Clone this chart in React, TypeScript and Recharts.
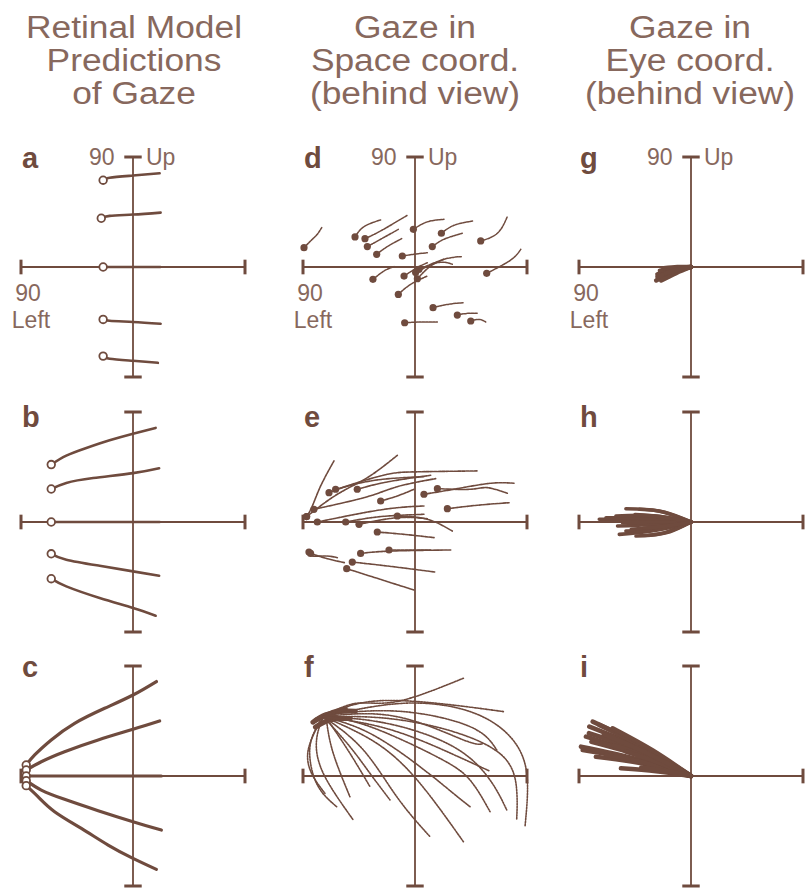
import { LineChart, Line, XAxis, YAxis, ReferenceLine } from "recharts";

const INK = "#6f4b3e";
const TEXT = "#87685d";
const FONT = "'Liberation Sans', Arial, Helvetica, sans-serif";

type Pt = [number, number];

// column headers
const headerLines = [
  ["Retinal Model", "Predictions", "of Gaze"],
  ["Gaze in", "Space coord.", "(behind view)"],
  ["Gaze in", "Eye coord.", "(behind view)"],
];
const headerCenters = [134, 415, 690];
const headerBaselines = [38, 71, 104];

const panelLetters = [
  ["a", "b", "c"],
  ["d", "e", "f"],
  ["g", "h", "i"],
];
const letterBaselines = [168, 427, 677];

// plot box positions (px of each panel's 224x220 frame)
const colLefts = [21, 303, 579];
const rowTops = [157, 412, 666];

// a: retinal model, fixation in centre
const tracesA: Pt[][] = [
  [[-24, 71], [-18.8, 73], [0, 74.8], [21.4, 76.7]],
  [[-25.5, 39.9], [-18.8, 41.8], [0, 42.9], [22.2, 44.5]],
  [[-24, 0], [22, 0]],
  [[-24, -42.9], [-18.8, -44], [0, -45], [22.2, -46.4]],
  [[-24, -72.9], [-18.8, -75], [0, -76.7], [20, -78.4]],
];

// b: retinal model, fixation left
const tracesB: Pt[][] = [
  [[-65.7, 47], [-53.6, 54.3], [-37.5, 60.6], [-18.8, 66.9], [0, 72.3], [18.2, 77]],
  [[-65.7, 27], [-53.6, 32], [-32, 36], [0, 40], [21, 44]],
  [[-65.7, 0], [21.4, 0]],
  [[-65.7, -26], [-53.6, -30.8], [-26.8, -35.8], [0, -40.4], [21, -44]],
  [[-65.7, -46.4], [-53.6, -52.7], [-26.8, -62.2], [0, -70.4], [18.2, -76.7]],
];

// c: retinal model, fixation far left
const tracesC: Pt[][] = [
  [[-85.8, 9], [-79, 17.2], [-65.7, 29.5], [-46.9, 43.1], [-22.8, 55.4], [0, 66.3], [18.8, 77.3]],
  [[-85.8, 4.9], [-73.7, 11.7], [-55, 19.9], [-28, 29.5], [0, 38.2], [21.4, 45]],
  [[-85.8, 0], [22.8, 0]],
  [[-85.8, -3.8], [-73.7, -11.5], [-55, -19.1], [-28, -28.4], [0, -37.4], [22.8, -44.2]],
  [[-85.8, -7.9], [-76.4, -16.9], [-63, -29.2], [-41.5, -42.9], [-20, -56.5], [0, -67.4], [18.8, -76.4]],
];

// d: gaze in space, central fixation
const tracesD: Pt[][] = [
  [[-89.2, 15.8], [-82.5, 22.7], [-78.5, 26.8], [-74.5, 33]],
  [[-48.2, 24.6], [-41, 33], [-27.6, 38.5]],
  [[-40.2, 23.2], [-27.6, 29.5], [-6.2, 42.3]],
  [[-38.3, 16.7], [-27.6, 22.7], [-13.4, 30.8]],
  [[-30.8, 10.4], [-22.2, 16.7], [-10.7, 23.2]],
  [[-1.3, 30.8], [9.9, 36.9], [23.3, 39]],
  [[21.2, 27.6], [31.4, 34.1], [46.9, 37.7]],
  [[13.9, 16.7], [23.3, 22.7], [38, 27.6]],
  [[-10.2, 9], [-0.8, 10.4], [9.9, 11.7]],
  [[52.8, 21.3], [66.2, 27.6], [74.2, 41.2]],
  [[57.6, -5.2], [76.9, 5.7], [85, 14.5]],
  [[-33.8, -10.1], [-24.9, -3.3], [-16.9, 0.3]],
  [[-8.8, -7.4], [1.9, -0.5], [9.9, 3.5]],
  [[0.5, -4.6], [18, 3.5], [30, 2.2]],
  [[3.2, -1.9], [23.3, 6.3], [38, 8.5]],
  [[1.9, -9.6], [12.6, 0.8], [23.3, 6.3]],
  [[-13.4, -22.4], [-3.5, -14.2], [9.9, -7.4]],
  [[14.5, -33.3], [26, -30.6], [39.4, -29.2]],
  [[34, -39.3], [42.1, -37.9], [50.1, -37.9]],
  [[44.8, -44.2], [51.5, -42.9], [56.8, -45]],
  [[-8.3, -45.6], [4.6, -45], [18, -45]],
];

// e: gaze in space, fixation left
const tracesE: Pt[][] = [
  [[-87.1, 4.4], [-82.5, 13.1], [-75.8, 29.5], [-65.1, 50]],
  [[-87.1, 4.4], [-62.4, 22.7], [-38.3, 36.3], [-14.2, 54.6]],
  [[-69.1, 24], [-46.4, 32.2], [-22.2, 39], [-0.8, 41], [50.1, 41.8]],
  [[-63.8, 26.8], [-35.6, 33.6], [-8.8, 36.3], [7.2, 37.1]],
  [[-46.4, 26.8], [-22.2, 32.8], [12.6, 38.2]],
  [[-81.2, 10.4], [-38.3, 20.7], [-14.2, 28.9], [16.6, 35.5]],
  [[-27.6, 17.2], [-14.2, 21.3], [-0.8, 26.8]],
  [[-78.5, 0], [-41, 7.6], [-14.2, 11.7], [7.2, 13.1]],
  [[-55.7, 0], [-27.6, 4.4], [7.2, 6.3]],
  [[-45, -1.9], [-14.2, 3.5], [9.9, 2.7]],
  [[-14.2, 4.9], [9.9, 2.2], [30, -7.4]],
  [[7.2, 22.7], [34, 27.3], [60.8, 31.7], [79.6, 31.7]],
  [[18, 27.3], [44.8, 26.8], [58.2, 28.1], [74.2, 23.5]],
  [[26, 10.9], [50.1, 13.7], [75.6, 15.8]],
  [[-30.3, -8.2], [-8.8, -10.1], [15.3, -12.8]],
  [[-43.7, -25.7], [-19.6, -23.8], [28.7, -22.9]],
  [[-20.9, -22.9], [1.9, -22.9], [12.6, -22.9]],
  [[-50.4, -32.8], [-22.2, -36], [16.6, -41]],
  [[-54.9, -38.2], [-27.6, -47], [-0.8, -55.7]],
  [[-85.2, -24.6], [-82.5, -27.8], [-71.8, -27.8], [-62.4, -29.2]],
  [[-83.9, -25.7], [-70.5, -30], [-56.5, -33.3]],
];

// f: gaze in space, fixation far left-up
const tracesF: Pt[][] = [
  [[-73.7, 48.6], [-46.9, 59.5], [-14.7, 60.9], [38.9, 80]],
  [[-73.7, 48.6], [-36.2, 60.9], [17.4, 59.5], [71, 52.7]],
  [[-73.7, 48.6], [-9.4, 59.5], [44.2, 52.7], [76.4, 32.2], [89.8, 2.2], [88.4, -41.5]],
  [[-73.7, 48.6], [-22.8, 47.2], [30.8, 36.3], [71, 15.8], [81.7, -11.5], [81.7, -36]],
  [[-73.7, 48.6], [-22.8, 43.1], [30.8, 24], [60.3, -3.3], [73.7, -27.8]],
  [[-73.7, 48.6], [-36.2, 40.4], [17.4, 15.8], [44.2, -3.3], [60.3, -29.2]],
  [[-73.7, 48.6], [-36.2, 34.9], [4, 7.6], [30.8, -14.2], [44.2, -25.1]],
  [[-73.7, 48.6], [-30.8, 26.8], [4, -6], [38.9, -53.8]],
  [[-73.7, 48.6], [-41.5, 21.3], [-14.7, -16.9], [12.1, -49.7]],
  [[-73.7, 48.6], [-52.3, 24], [-36.2, 2.2], [-20.1, -19.6]],
  [[-73.7, 48.6], [-79.1, 29.5], [-73.7, 2.2], [-49.6, -36]],
  [[-75, 45.9], [-84.4, 24], [-79.1, -6], [-63, -25.1]],
  [[-76.4, 44.5], [-85.8, 21.3], [-83.1, 2.2], [-72.4, -14.2]],
  [[-71, 44.5], [-65.7, 18.6], [-52.3, -16.9]],
  [[-68.3, 43.1], [-52.3, 18.6], [-36.2, -8.7]],
  [[-73.7, 48.6], [-14.7, 48.6], [38.9, 29.5], [54.9, 26.8]],
  [[-63, 51.3], [-9.4, 52.7], [44.2, 40.4], [65.7, 21.3]],
  [[-73.7, 48.6], [-20, 38], [30, 18], [60, 4]],
];
// dense knot where the f traces leave the target
const knotF: Pt[][] = [
  [[-82, 44], [-72, 50], [-58, 53], [-48, 53]],
  [[-80, 40], [-68, 46], [-52, 47]],
  [[-79, 46], [-66, 52], [-56, 55]],
];

// g: gaze in eye, central fixation
const tracesG: Pt[][] = [
  [[0, 0], [-13, -3], [-26, -9]],
  [[0, 0], [-14, -2], [-27, -6]],
  [[0, 0], [-12, -1], [-25, -3]],
  [[0, 0], [-11, 0], [-22, -1]],
  [[0, 0], [-14, -4], [-28, -11]],
  [[0, 0], [-12, -5], [-24, -11]],
  [[0, 0], [-13, -3], [-27, -8]],
  [[0, 0], [-10, -2], [-20, -5]],
];

// h: gaze in eye, fixation left
const tracesH: Pt[][] = [
  [[0, 0], [-37, 2], [-73.7, 2.2]],
  [[0, 0], [-34, 3], [-68.3, 3.5]],
  [[0, 0], [-30, 5], [-60.3, 4.9]],
  [[0, 0], [-26, 9], [-52.3, 10.9]],
  [[0, 0], [-21, 8], [-41.5, 10.4]],
  [[0, 0], [-29, -7], [-57.6, -10.1]],
  [[0, 0], [-26, -6], [-52.3, -7.4]],
  [[0, 0], [-22, -9], [-44.2, -11.5]],
  [[0, 0], [-17, -8], [-33.5, -10.9]],
  [[0, 0], [-30, -2], [-59, -3.3]],
  [[0, 0], [-27, 0], [-55, -0.5]],
  [[0, 0], [-24, -4], [-48, -6]],
  [[0, 0], [-22, 4], [-45, 6]],
  [[0, 0], [-18, -3], [-38, -5]],
];

// i: gaze in eye, fixation far left-up
const tracesI: Pt[][] = [
  [[0, 0], [-43, 13], [-87, 21.3]],
  [[0, 0], [-41, 23], [-81.7, 40.4]],
  [[0, 0], [-40, 25], [-79, 44.5]],
  [[0, 0], [-37, 23], [-73.7, 41.8]],
  [[0, 0], [-31, 21], [-63, 39]],
  [[0, 0], [-42, 18], [-84.4, 32.2]],
  [[0, 0], [-44, 14], [-88.4, 24]],
  [[0, 0], [-38, 10], [-76.4, 15.8]],
  [[0, 0], [-34, 10], [-68.3, 17.2]],
  [[0, 0], [-28, 4], [-56.3, 6.3]],
  [[0, 0], [-23, 7], [-46.9, 13.1]],
  [[0, 0], [-40, 20], [-82, 35]],
  [[0, 0], [-39, 16], [-80, 28]],
  [[0, 0], [-35, 15], [-72, 27]],
  [[0, 0], [-30, 14], [-62, 25]],
  [[0, 0], [-26, 11], [-52, 20]],
  [[0, 0], [-36, 19], [-70, 34]],
  [[0, 0], [-20, 4], [-40, 7]],
];

type DotKind = "open" | "filled" | "none";

interface PanelProps {
  left: number;
  top: number;
  traces: Pt[][];
  dotKind: DotKind;
  strokeWidth: number;
  dash?: string;
  labelled?: boolean;
  heavy?: Pt[][];
}

const startDot = (kind: DotKind) => (p: any) => {
  const k = `dot-${p.index}`;
  if (p.index !== 0 || kind === "none") return <g key={k} />;
  if (kind === "open")
    return <circle key={k} cx={p.cx} cy={p.cy} r={3.8} fill="#fff" stroke={INK} strokeWidth={1.8} />;
  return <circle key={k} cx={p.cx} cy={p.cy} r={3.6} fill={INK} stroke="none" />;
};

const labelStyle = { fontFamily: FONT, fontSize: 23, fill: TEXT };

const upLabel = (props: any) => {
  const vb = props.viewBox;
  const cx = vb.x + vb.width / 2;
  return (
    <text y={vb.y + 8} style={labelStyle}>
      <tspan x={cx - 44}>90</tspan>
      <tspan x={cx + 13}>Up</tspan>
    </text>
  );
};

// "90" and "Left" stacked below the left end cap
const leftLabel = (props: any) => {
  const vb = props.viewBox;
  const cy = vb.y + vb.height / 2;
  return (
    <g>
      <text x={vb.x + 7} y={cy + 34} textAnchor="middle" style={labelStyle}>90</text>
      <text x={vb.x + 10} y={cy + 61} textAnchor="middle" style={labelStyle}>Left</text>
    </g>
  );
};

const W = 224;
const H = 220;
const PAD = 16;

function Panel({ left, top, traces, dotKind, strokeWidth, dash, labelled, heavy }: PanelProps) {
  return (
    <div style={{ position: "absolute", left: left - PAD, top: top - PAD }}>
      <LineChart
        width={W + 2 * PAD}
        height={H + 2 * PAD}
        margin={{ top: PAD, right: PAD, bottom: PAD, left: PAD }}
      >
        <XAxis type="number" dataKey="x" domain={[-90, 90]} hide />
        <YAxis type="number" domain={[-90, 90]} hide />
        <ReferenceLine y={0} stroke={INK} strokeWidth={1.8} />
        <ReferenceLine x={0} stroke={INK} strokeWidth={1.8} />
        <ReferenceLine
          segment={[{ x: -90, y: -6 }, { x: -90, y: 6 }]}
          stroke={INK}
          strokeWidth={3}
          label={labelled ? leftLabel : undefined}
        />
        <ReferenceLine segment={[{ x: 90, y: -6 }, { x: 90, y: 6 }]} stroke={INK} strokeWidth={3} />
        <ReferenceLine
          segment={[{ x: -7, y: 90 }, { x: 7, y: 90 }]}
          stroke={INK}
          strokeWidth={3}
          label={labelled ? upLabel : undefined}
        />
        <ReferenceLine segment={[{ x: -7, y: -90 }, { x: 7, y: -90 }]} stroke={INK} strokeWidth={3} />
        {(heavy || []).map((t, i) => (
          <Line
            key={`hv${i}`}
            data={t.map(([x, y]) => ({ x, y }))}
            dataKey="y"
            type="natural"
            stroke={INK}
            strokeWidth={5}
            strokeLinecap="round"
            dot={false}
            activeDot={false}
            isAnimationActive={false}
          />
        ))}
        {traces.map((t, i) => (
          <Line
            key={i}
            data={t.map(([x, y]) => ({ x, y }))}
            dataKey="y"
            type="natural"
            stroke={INK}
            strokeWidth={strokeWidth}
            strokeDasharray={dash}
            strokeLinecap="round"
            dot={startDot(dotKind)}
            activeDot={false}
            isAnimationActive={false}
          />
        ))}
      </LineChart>
    </div>
  );
}

export default function App() {
  const panels: { traces: Pt[][]; dotKind: DotKind; sw: number; dash?: string; heavy?: Pt[][] }[][] = [
    [
      { traces: tracesA, dotKind: "open", sw: 2.6 },
      { traces: tracesB, dotKind: "open", sw: 2.6 },
      { traces: tracesC, dotKind: "open", sw: 3.2 },
    ],
    [
      { traces: tracesD, dotKind: "filled", sw: 1.5, dash: "2.5 1" },
      { traces: tracesE, dotKind: "filled", sw: 1.6, dash: "3 1" },
      { traces: tracesF, dotKind: "none", sw: 1.6, dash: "1.6 1.2", heavy: knotF },
    ],
    [
      { traces: tracesG, dotKind: "none", sw: 4.5 },
      { traces: tracesH, dotKind: "none", sw: 3.6 },
      { traces: tracesI, dotKind: "none", sw: 4.6 },
    ],
  ];

  return (
    <div
      style={{
        position: "fixed",
        left: 0,
        top: 0,
        width: 805,
        height: 889,
        overflow: "hidden",
        background: "#fff",
      }}
    >
      {panels.map((col, ci) =>
        col.map((p, ri) => (
          <Panel
            key={`${ci}-${ri}`}
            left={colLefts[ci]}
            top={rowTops[ri]}
            traces={p.traces}
            dotKind={p.dotKind}
            strokeWidth={p.sw}
            dash={p.dash}
            heavy={p.heavy}
            labelled={ri === 0}
          />
        ))
      )}
      <svg
        width={805}
        height={889}
        style={{ position: "absolute", left: 0, top: 0, pointerEvents: "none" }}
      >
        {headerLines.map((lines, ci) =>
          lines.map((txt, li) => (
            <g key={`h${ci}-${li}`} transform={`translate(${headerCenters[ci]},${headerBaselines[li]}) scale(1.14,1)`}>
              <text x={0} y={0} textAnchor="middle" fontFamily={FONT} fontSize={31} fill={TEXT}>
                {txt}
              </text>
            </g>
          ))
        )}
        {panelLetters.map((col, ci) =>
          col.map((l, ri) => (
            <text
              key={`l${ci}-${ri}`}
              x={colLefts[ci] + 1}
              y={letterBaselines[ri]}
              fontFamily={FONT}
              fontWeight="bold"
              fontSize={29}
              fill={INK}
            >
              {l}
            </text>
          ))
        )}
      </svg>
    </div>
  );
}
